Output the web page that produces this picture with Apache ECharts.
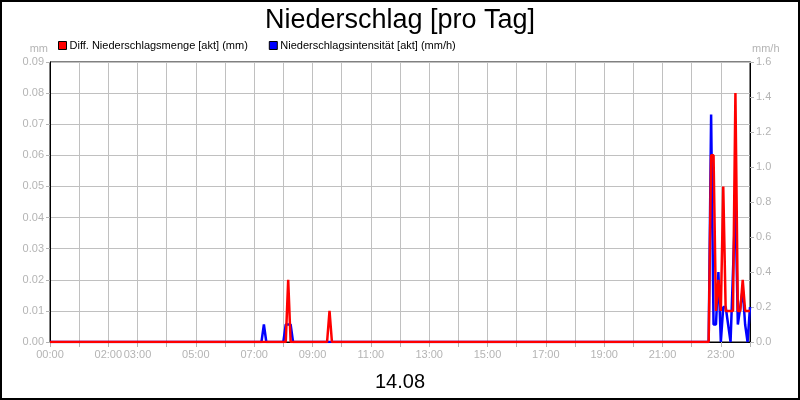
<!DOCTYPE html>
<html lang="de">
<head>
    <meta charset="UTF-8"/>
    <title>Niederschlag</title>
    <style>
        * {
            padding: 0;
            margin: 0;
        }

        body {
            background-color: white;
        }

        #chart {
            width: 800px;
            height: 400px;
        }
    </style>
    <script src="https://cdn.jsdelivr.net/npm/echarts@6/dist/echarts.min.js"></script>
</head>
<body>
<div id="chart"></div>
<script>
    // Diff. Niederschlagsmenge (mm), Stuetzpunkte in 5-Minuten-Schritten
    const rainTimes = ['00:00', '08:05', '08:10', '08:15', '09:30', '09:35', '09:40',
        '22:35', '22:40', '22:45', '22:50', '22:55', '23:00', '23:05', '23:10', '23:15',
        '23:20', '23:25', '23:30', '23:35', '23:40', '23:45', '23:50', '23:55', '24:00']
    const rainMm = [0, 0, 0.02, 0, 0, 0.01, 0,
        0, 0.06, 0.06, 0.01, 0.02, 0.01, 0.05, 0.01, 0.01,
        0.01, 0.01, 0.08, 0.01, 0.01, 0.02, 0.01, 0.01, 0.01]

    // Niederschlagsintensitaet (mm/h)
    const rateTimes = ['00:00', '07:15', '07:20', '07:25', '08:00', '08:05', '08:10', '08:15', '08:20',
        '22:35', '22:40', '22:45', '22:50', '22:55', '23:00', '23:05', '23:10', '23:15',
        '23:20', '23:25', '23:30', '23:35', '23:40', '23:45', '23:50', '23:55', '24:00']
    const rateMmh = [0, 0, 0.1, 0, 0, 0.1, 0.1, 0.1, 0,
        0, 1.3, 0.1, 0.1, 0.4, 0, 0.2, 0.2, 0.1,
        0, 0.4, 0.8, 0.1, 0.2, 0.3, 0.1, 0, 0.2]

    // beschriftete Stunden an der x-Achse
    const hourLabels = ['00:00', '02:00', '03:00', '05:00', '07:00', '09:00', '11:00',
        '13:00', '15:00', '17:00', '19:00', '21:00', '23:00']

    const dayLabel = '14.08'

    const toMin = (t) => {
        const p = t.split(':')
        return Number(p[0]) * 60 + Number(p[1])
    }
    const pad = (n) => (n < 10 ? '0' : '') + n

    const rainData = rainTimes.map((t, i) => [toMin(t), rainMm[i]])
    const rateData = rateTimes.map((t, i) => [toMin(t), rateMmh[i]])

    const font = "'Liberation Sans', Arial, sans-serif"
    const gray = '#b4b4b4'

    const chart = echarts.init(document.getElementById('chart'))

    chart.setOption({
        animation: false,
        textStyle: {fontFamily: font},
        title: {
            text: 'Niederschlag [pro Tag]',
            left: 'center',
            top: 2,
            textStyle: {fontSize: 27, fontWeight: 'normal', color: '#000', fontFamily: font}
        },
        legend: {
            data: ['Diff. Niederschlagsmenge [akt] (mm)', 'Niederschlagsintensität [akt] (mm/h)'],
            left: 53,
            top: 35,
            icon: 'rect',
            itemWidth: 8,
            itemHeight: 8,
            itemGap: 21,
            itemStyle: {borderColor: '#000', borderWidth: 1},
            textStyle: {fontSize: 11, color: '#000', fontFamily: font, padding: [0, 0, 0, -2]}
        },
        graphic: [{
            type: 'rect',
            shape: {x: 1, y: 1, width: 798, height: 398},
            style: {fill: 'none', stroke: '#000', lineWidth: 2},
            silent: true
        }],
        grid: {
            left: 50,
            right: 50,
            top: 62,
            bottom: 58,
            outerBoundsMode: 'none',
            containLabel: false,
            show: true,
            borderColor: '#000',
            borderWidth: 1
        },
        xAxis: {
            type: 'value',
            min: 0,
            max: 1440,
            interval: 60,
            name: dayLabel,
            nameLocation: 'middle',
            nameGap: 30,
            nameTextStyle: {fontSize: 20, color: '#000', fontFamily: font},
            axisLine: {lineStyle: {color: '#000'}},
            axisTick: {length: 5, lineStyle: {color: gray}},
            splitLine: {lineStyle: {color: '#c0c0c0'}},
            axisLabel: {
                color: gray,
                fontSize: 11,
                margin: 7,
                showMaxLabel: true,
                formatter: (v) => {
                    const s = pad(Math.floor(v / 60)) + ':00'
                    return hourLabels.indexOf(s) >= 0 ? s : ''
                }
            }
        },
        yAxis: [{
            type: 'value',
            min: 0,
            max: 0.09,
            interval: 0.01,
            name: 'mm',
            nameGap: 8,
            nameTextStyle: {color: gray, fontSize: 11, align: 'right', padding: [0, 2, 0, 0]},
            axisLine: {show: true, lineStyle: {color: '#000'}},
            axisTick: {show: true, length: 4, lineStyle: {color: gray}},
            splitLine: {lineStyle: {color: '#c0c0c0'}},
            axisLabel: {color: gray, fontSize: 11, margin: 6, formatter: (v) => v.toFixed(2)}
        }, {
            type: 'value',
            min: 0,
            max: 1.6,
            interval: 0.2,
            name: 'mm/h',
            nameGap: 8,
            nameTextStyle: {color: gray, fontSize: 11, align: 'left', padding: [0, 0, 0, 2]},
            axisLine: {show: true, lineStyle: {color: '#000'}},
            axisTick: {show: true, length: 4, lineStyle: {color: gray}},
            splitLine: {show: false},
            axisLabel: {color: gray, fontSize: 11, margin: 6, formatter: (v) => v.toFixed(1)}
        }],
        series: [{
            name: 'Niederschlagsintensität [akt] (mm/h)',
            type: 'line',
            yAxisIndex: 1,
            data: rateData,
            showSymbol: false,
            color: '#0000ff',
            lineStyle: {width: 2.5, color: '#0000ff'}
        }, {
            name: 'Diff. Niederschlagsmenge [akt] (mm)',
            type: 'line',
            yAxisIndex: 0,
            data: rainData,
            showSymbol: false,
            color: '#ff0000',
            lineStyle: {width: 2.5, color: '#ff0000'}
        }]
    })
</script>
</body>
</html>
